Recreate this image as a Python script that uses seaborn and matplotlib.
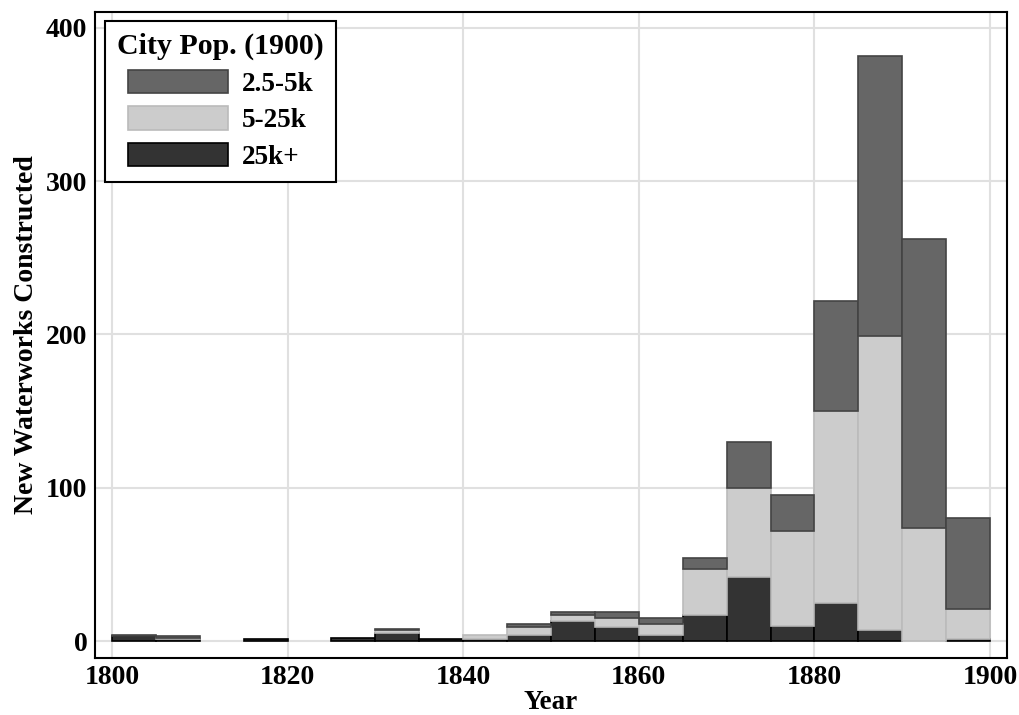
import numpy as np
import pandas as pd
import matplotlib
matplotlib.use("Agg")
import matplotlib.pyplot as plt
from matplotlib.patches import Patch
from matplotlib.colors import to_hex
import seaborn as sns

# 5-year bins, counts of new waterworks by 1900 city population class
bin_starts = [1800, 1805, 1810, 1815, 1820, 1825, 1830, 1835, 1840, 1845,
              1850, 1855, 1860, 1865, 1870, 1875, 1880, 1885, 1890, 1895]
bin_edges = bin_starts + [1900]
small_pop = [1, 1, 0, 0, 0, 0, 1, 0, 0, 2, 2, 4, 4, 7, 30, 23, 72, 183, 188, 59]
mid_pop = [0, 1, 0, 0, 0, 0, 2, 0, 3, 5, 4, 6, 7, 30, 58, 62, 125, 192, 74, 20]
large_pop = [3, 1, 0, 1, 0, 2, 5, 1, 1, 4, 13, 9, 4, 17, 42, 10, 25, 7, 0, 1]
groups = ["2.5-5k", "5-25k", "25k+"]
y_ticks = [0, 100, 200, 300, 400]
x_ticks = [1800, 1820, 1840, 1860, 1880, 1900]

fills = {"2.5-5k": "#666666", "5-25k": "#cccccc", "25k+": "#333333"}
edges = {"2.5-5k": "#444444", "5-25k": "#bbbbbb", "25k+": "#000000"}

rows = []
for name, vals in zip(groups, [small_pop, mid_pop, large_pop]):
    for yr, v in zip(bin_starts, vals):
        rows.append({"year": yr, "count": v, "pop": name})
df = pd.DataFrame(rows)

sns.set_style("whitegrid", {"grid.color": "#e0e0e0", "axes.edgecolor": "black",
                            "text.color": "black", "axes.labelcolor": "black",
                            "xtick.color": "black", "ytick.color": "black"})
plt.rcParams["font.family"] = ["Liberation Serif", "DejaVu Serif"]
plt.rcParams["font.weight"] = "bold"

fig = plt.figure(figsize=(10.2, 7.15), dpi=100)
ax = fig.add_axes([0.0931, 0.0801, 0.8942, 0.9035])

sns.histplot(df, x="year", weights="count", hue="pop", hue_order=groups,
             palette=fills, multiple="stack", bins=bin_edges, alpha=1,
             linewidth=1.2, legend=False, ax=ax)

# per-group edge colours, hide empty bars
edge_by_fill = {to_hex(c): edges[k] for k, c in fills.items()}
for p in ax.patches:
    p.set_edgecolor(edge_by_fill.get(to_hex(p.get_facecolor()[:3]), "black"))
    if p.get_height() == 0:
        p.set_visible(False)

ax.set_xlim(1798.06, 1901.94)
ax.set_ylim(-10.9, 410.6)
ax.set_xticks(x_ticks)
ax.set_yticks(y_ticks)
ax.grid(True, color="#e0e0e0", linewidth=1.5)
ax.set_axisbelow(True)
for s in ax.spines.values():
    s.set_color("black")
    s.set_linewidth(1.5)
ax.tick_params(axis="both", length=4, width=1.2, color="#e0e0e0",
               labelcolor="black", labelsize=20, pad=1.5)
for lbl in ax.get_xticklabels() + ax.get_yticklabels():
    lbl.set_fontweight("bold")

ax.set_xlabel("Year", fontsize=19.5, fontweight="bold", labelpad=0)
ax.set_ylabel("New Waterworks Constructed", fontsize=20, fontweight="bold",
              labelpad=5)

handles = [Patch(facecolor=fills[g], edgecolor=edges[g], linewidth=1.2)
           for g in groups]
leg = ax.legend(handles, groups, title="City Pop. (1900)", loc="upper left",
                bbox_to_anchor=(0.011, 0.986), borderaxespad=0,
                title_fontsize=21.5, prop={"weight": "bold", "size": 19.5},
                handlelength=3.7, handleheight=0.96, handletextpad=0.5,
                labelspacing=0.35, borderpad=0.45, fancybox=False,
                framealpha=1, edgecolor="black")
leg.get_title().set_fontweight("bold")
leg.get_frame().set_linewidth(1.5)

fig.savefig("out.png", dpi=100)
